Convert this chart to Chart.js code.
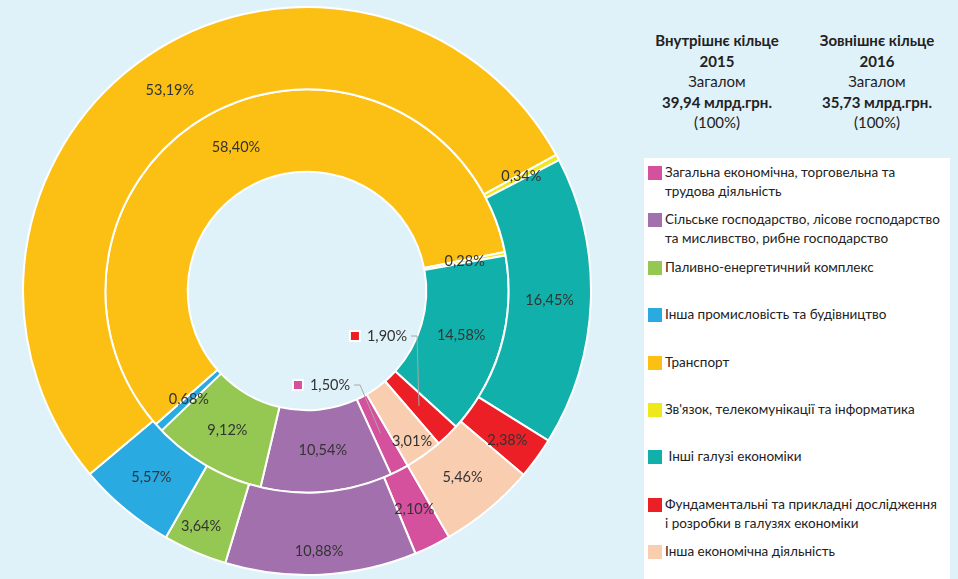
<!DOCTYPE html>
<html lang="uk">
<head>
<meta charset="UTF-8">
<title>Кільцева діаграма 2015-2016</title>
<script src="https://cdn.jsdelivr.net/npm/chart.js"></script>
<style>
  body { margin: 0; width: 958px; height: 579px; background: #dff1f9; font-family: Lato, "Noto Sans", sans-serif; color: #222; overflow: hidden; position: relative; }
  #chartBox { position: absolute; left: 22px; top: 6px; width: 570px; height: 570px; }
  .head { position: absolute; top: 30px; width: 160px; text-align: center; font-size: 15px; line-height: 20.5px; }
  .head b { font-weight: 700; }
  #legendBox { position: absolute; left: 644px; top: 158px; width: 306px; height: 421px; background: #fff; }
  .item { position: absolute; left: 4px; width: 300px; }
  .item .sw { position: absolute; left: 0; top: 3px; width: 14px; height: 14px; }
  .item .tx { margin-left: 17px; font-size: 13.5px; line-height: 19px; white-space: pre-wrap; }
</style>
</head>
<body>
<div id="chartBox"><canvas id="ringChart"></canvas></div>
<div class="head" style="left:637px"><b>Внутрішнє кільце<br>2015</b><br>Загалом<br><b>39,94 млрд.грн.</b><br>(100%)</div>
<div class="head" style="left:797px"><b>Зовнішнє кільце<br>2016</b><br>Загалом<br><b>35,73 млрд.грн.</b><br>(100%)</div>
<div id="legendBox"></div>

<script>
// categories in legend order (line breaks as in the original)
const categories = [
    'Загальна економічна, торговельна та\nтрудова діяльність',
    'Сільське господарство, лісове господарство\nта мисливство, рибне господарство',
    'Паливно-енергетичний комплекс',
    'Інша промисловість та будівництво',
    'Транспорт',
    "Зв'язок, телекомунікації та інформатика",
    ' Інші галузі економіки',
    'Фундаментальні та прикладні дослідження\nі розробки в галузях економіки',
    'Інша економічна діяльність'
];
const colors = ['#d5519d', '#a370ae', '#94c853', '#29abe2', '#fcc014', '#efe81c', '#12b0aa', '#ec1f26', '#f9cdb0'];

// inner ring = 2015, outer ring = 2016 (percent)
const values2015 = [1.50, 10.54, 9.12, 0.68, 58.40, 0.28, 14.58, 1.90, 3.01];
const values2016 = [2.10, 10.88, 3.64, 5.57, 53.19, 0.34, 16.45, 2.38, 5.46];

// build the html legend
const legendBox = document.getElementById('legendBox');
categories.forEach((c, i) => {
    const d = document.createElement('div');
    d.className = 'item';
    d.style.top = (5 + i * 47.4) + 'px';
    d.innerHTML = '<span class="sw" style="background:' + colors[i] + '"></span><div class="tx"></div>';
    d.querySelector('.tx').textContent = c;
    legendBox.appendChild(d);
});

function fmt(v) {
    return v.toFixed(2).replace('.', ',') + '%';
}

// small labels moved into the hole with a leader line (dataset-index)
const callouts = { '1-7': [80, 45], '1-0': [23, 94] };
// slight shifts so labels sit like in the original
const nudges = { '0-1': [0, 18], '0-2': [-10, 12], '0-7': [4, 6], '1-8': [12, 20] };

const ringLabels = {
    id: 'ringLabels',
    afterDatasetsDraw(chart) {
        const ctx = chart.ctx;
        ctx.save();
        ctx.font = '14.5px Lato';
        ctx.textAlign = 'center';
        ctx.textBaseline = 'middle';
        chart.data.datasets.forEach((ds, di) => {
            const meta = chart.getDatasetMeta(di);
            meta.data.forEach((arc, i) => {
                const p = arc.getProps(['x', 'y', 'startAngle', 'endAngle', 'innerRadius', 'outerRadius'], true);
                const mid = (p.startAngle + p.endAngle) / 2;
                const r = (p.innerRadius + p.outerRadius) / 2;
                const ax = p.x + Math.cos(mid) * r;
                const ay = p.y + Math.sin(mid) * r;
                const key = di + '-' + i;
                const text = fmt(ds.data[i]);

                if (callouts[key]) {
                    const tx = p.x + callouts[key][0];
                    const ty = p.y + callouts[key][1];
                    const w = ctx.measureText(text).width;
                    // leader line
                    ctx.strokeStyle = '#a8a8a8';
                    ctx.lineWidth = 1;
                    ctx.beginPath();
                    ctx.moveTo(tx + w / 2 + 4, ty);
                    ctx.lineTo(tx + w / 2 + 10, ty);
                    ctx.lineTo(ax, ay);
                    ctx.stroke();
                    // marker
                    const mx = tx - w / 2 - 12;
                    ctx.fillStyle = '#fff';
                    ctx.fillRect(mx - 6, ty - 6, 12, 12);
                    ctx.fillStyle = ds.backgroundColor[i];
                    ctx.fillRect(mx - 4, ty - 4, 8, 8);
                    ctx.fillStyle = '#333';
                    ctx.fillText(text, tx, ty);
                    return;
                }
                const n = nudges[key] || [0, 0];
                ctx.fillStyle = '#333';
                ctx.fillText(text, ax + n[0], ay + n[1]);
            });
        });
        ctx.restore();
    }
};

new Chart(document.getElementById('ringChart'), {
    type: 'doughnut',
    data: {
        labels: categories,
        datasets: [
            { label: '2016', data: values2016, backgroundColor: colors, borderColor: '#fff', borderWidth: 2 },
            { label: '2015', data: values2015, backgroundColor: colors, borderColor: '#fff', borderWidth: 2 }
        ]
    },
    options: {
        responsive: true,
        maintainAspectRatio: false,
        animation: false,
        rotation: 150,
        cutout: '42%',
        layout: { padding: 0 },
        plugins: {
            legend: { display: false },
            tooltip: { enabled: false }
        }
    },
    plugins: [ringLabels]
});
</script>
</body>
</html>
